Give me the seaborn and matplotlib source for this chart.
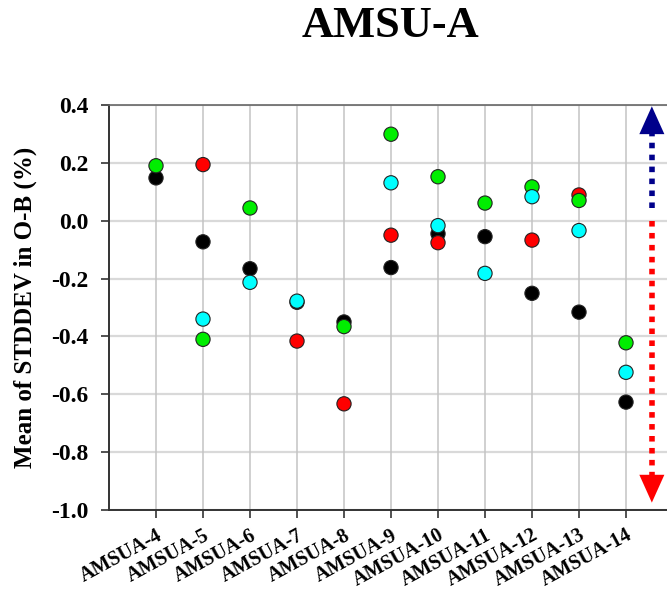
import numpy as np
import pandas as pd
import matplotlib
matplotlib.use("Agg")
import matplotlib.pyplot as plt
import seaborn as sns

# Channels on the x axis
channels = ["AMSUA-4", "AMSUA-5", "AMSUA-6", "AMSUA-7", "AMSUA-8", "AMSUA-9",
            "AMSUA-10", "AMSUA-11", "AMSUA-12", "AMSUA-13", "AMSUA-14"]

# Mean of STDDEV in O-B (%) for each experiment (NaN = no value)
nan = np.nan
black_vals = [0.148, -0.073, -0.166, -0.282, -0.350, -0.162, -0.045, -0.055, -0.251, -0.316, -0.627]
red_vals = [nan, 0.194, nan, -0.416, -0.633, -0.050, -0.076, nan, -0.067, 0.089, nan]
green_vals = [0.190, -0.410, 0.044, nan, -0.366, 0.299, 0.152, 0.061, 0.117, 0.070, -0.422]
cyan_vals = [nan, -0.340, -0.213, -0.278, nan, 0.131, -0.017, -0.182, 0.083, -0.034, -0.524]

series = {"black": black_vals, "red": red_vals, "green": green_vals, "cyan": cyan_vals}
palette = {"black": "#000000", "red": "#ff0000", "green": "#00ee00", "cyan": "#00ffff"}

yticks = [0.4, 0.2, 0.0, -0.2, -0.4, -0.6, -0.8, -1.0]

rows = []
for name, vals in series.items():
    for i, v in enumerate(vals):
        if not np.isnan(v):
            rows.append({"pos": i + 1, "value": v, "series": name})
df = pd.DataFrame(rows)

sns.set_theme(style="white")
serif = ["Liberation Serif", "DejaVu Serif"]
plt.rcParams["font.family"] = serif
plt.rcParams["text.color"] = "black"
plt.rcParams["axes.labelcolor"] = "black"
plt.rcParams["xtick.labelcolor"] = "black"
plt.rcParams["ytick.labelcolor"] = "black"

W, H = 667, 592
fig = plt.figure(figsize=(W / 100, H / 100), dpi=100)
ax = fig.add_axes([109 / W, 1 - 510 / H, (673 - 109) / W, (510 - 105) / H])

# horizontal grid lines
for y in yticks:
    ax.axhline(y, color="#d9d9d9", lw=1.6, zorder=0)
# vertical grid lines at each channel
for i in range(len(channels)):
    ax.axvline(i + 1, color="#c4c4c4", lw=1.1, zorder=0)

sns.scatterplot(data=df, x="pos", y="value", hue="series", palette=palette,
                s=105, edgecolor="#222222", linewidth=0.8, legend=False,
                ax=ax, zorder=3)

# dotted arrows on the right
ax_x = 11.55
ax.plot([ax_x, ax_x], [0.045, 0.345], color="#00008b", lw=4.0,
        linestyle=(0, (1, 1.15)), solid_capstyle="butt", dash_capstyle="butt",
        clip_on=False, zorder=4)
ax.annotate("", xy=(ax_x, 0.405), xytext=(ax_x, 0.33),
            arrowprops=dict(arrowstyle="-|>,head_length=1.0,head_width=0.45",
                            color="#00008b", lw=0.01, mutation_scale=20),
            annotation_clip=False, zorder=4)
ax.plot([ax_x, ax_x], [0.0, -0.93], color="#ff0000", lw=4.0,
        linestyle=(0, (1, 1.15)), solid_capstyle="butt", dash_capstyle="butt",
        clip_on=False, zorder=4)
ax.annotate("", xy=(ax_x, -0.984), xytext=(ax_x, -0.91),
            arrowprops=dict(arrowstyle="-|>,head_length=1.0,head_width=0.45",
                            color="#ff0000", lw=0.01, mutation_scale=20),
            annotation_clip=False, zorder=4)

ax.set_xlim(0, 12)
ax.set_ylim(-1.0, 0.4)
ax.set_xticks(range(1, len(channels) + 1))
ax.set_xticklabels(channels, rotation=28.5, ha="right", va="top",
                   rotation_mode="anchor", fontsize=14.5, fontweight="bold",
                   family=serif)
ax.set_yticks(yticks)
ax.set_yticklabels([f"{t:.1f}" for t in yticks], fontsize=17,
                   fontweight="bold", family=serif)
ax.tick_params(axis="both", direction="out", length=6, width=1.2,
               color="#333333", bottom=True, left=True)
ax.tick_params(axis="y", pad=9)
ax.tick_params(axis="x", pad=5)

ax.set_xlabel("")
ax.set_ylabel("Mean of STDDEV in O-B (%)", fontsize=18, fontweight="bold",
              family=serif, labelpad=10)

ax.spines["right"].set_visible(False)
ax.spines["top"].set_color("#666666")
ax.spines["top"].set_linewidth(1.2)
ax.spines["left"].set_color("#333333")
ax.spines["left"].set_linewidth(1.4)
ax.spines["bottom"].set_color("#333333")
ax.spines["bottom"].set_linewidth(1.4)

fig.text(390 / W, 1 - 26 / H, "AMSU-A", ha="center", va="center",
         fontsize=32, fontweight="bold", family=serif)

fig.savefig("out.png", dpi=100)
